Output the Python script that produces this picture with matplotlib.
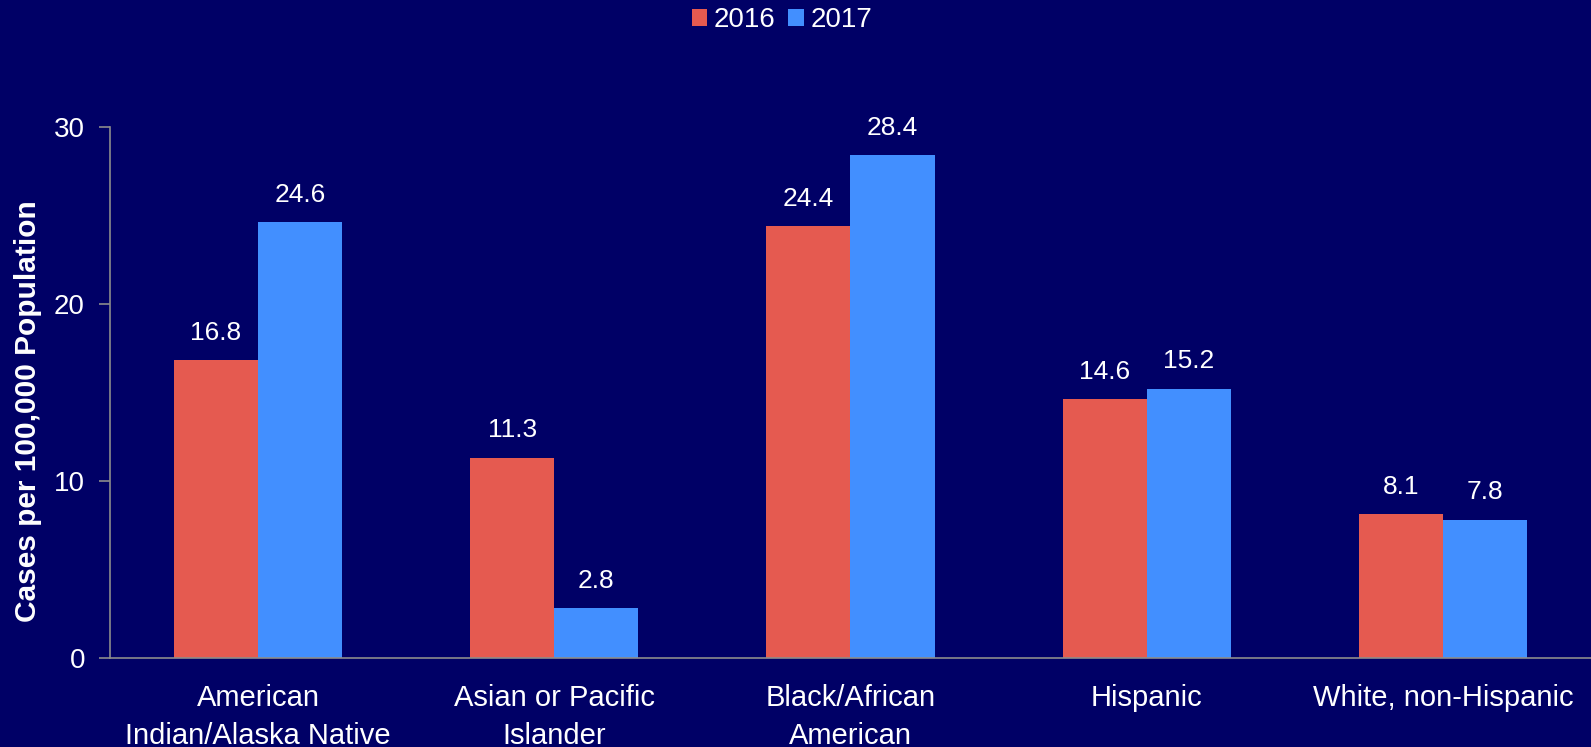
import numpy as np
import matplotlib.pyplot as plt

categories = ['American\nIndian/Alaska Native', 'Asian or Pacific\nIslander',
              'Black/African\nAmerican', 'Hispanic', 'White, non-Hispanic']
years = ['2016', '2017']
rates_2016 = [16.8, 11.3, 24.4, 14.6, 8.1]
rates_2017 = [24.6, 2.8, 28.4, 15.2, 7.8]

bg = '#000066'
col_2016 = '#E55A50'
col_2017 = '#428FFF'
axis_col = '#8C8C8C'

plt.rcParams['font.family'] = ['Liberation Sans', 'DejaVu Sans']

fig = plt.figure(figsize=(15.91, 7.47), dpi=100, facecolor=bg)
ax = fig.add_axes([0.0691, 0.1198, 0.9309, 0.7102], facecolor=bg)

x = np.arange(len(categories))
w = 0.284
b1 = ax.bar(x - w / 2, rates_2016, w, color=col_2016, label=years[0])
b2 = ax.bar(x + w / 2, rates_2017, w, color=col_2017, label=years[1])

for bars in (b1, b2):
    for bar in bars:
        h = bar.get_height()
        ax.annotate(f'{h:.1f}', (bar.get_x() + bar.get_width() / 2, h),
                    xytext=(0, 11), textcoords='offset points',
                    ha='center', va='bottom', color='white', fontsize=19)

ax.set_xlim(-0.5, len(categories) - 0.5)
ax.set_ylim(0, 30)
ax.set_yticks([0, 10, 20, 30])
ax.set_xticks(x)
ax.set_xticklabels(categories, fontsize=21, color='white', linespacing=1.45)
ax.tick_params(axis='x', length=0, pad=19)
ax.tick_params(axis='y', colors=axis_col, labelcolor='white', labelsize=20,
               length=8, width=1.2, pad=10)

for s in ['top', 'right']:
    ax.spines[s].set_visible(False)
for s in ['left', 'bottom']:
    ax.spines[s].set_color(axis_col)
    ax.spines[s].set_linewidth(1.2)

ax.set_ylabel('Cases per 100,000 Population', color='white', fontsize=21.5,
              fontweight='bold')
ax.yaxis.set_label_coords(-0.046, 0.465)

fig.legend(loc='center', bbox_to_anchor=(0.4915, 0.973), ncol=2, frameon=False,
           fontsize=20, labelcolor='white', handlelength=0.55, handleheight=0.55,
           handletextpad=0.25, columnspacing=0.45)

plt.savefig('out.png', dpi=100, facecolor=bg)
